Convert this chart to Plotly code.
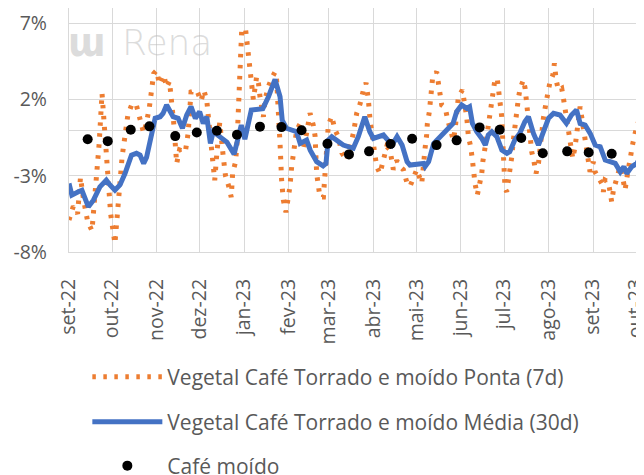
import pandas as pd
import plotly.graph_objects as go

# ---------------- data (days counted from 2022-09-01) ----------------
START = "2022-09-01"

ponta_days = [0, 3, 6, 8, 10, 13, 16, 19, 21, 23, 25, 27, 29, 32, 34, 37, 41, 44, 47, 50,
              52, 54, 56, 59, 61, 63, 66, 68, 70, 73, 75, 77, 81, 83, 85, 89, 92, 94, 96, 98.5,
              101.5, 103, 105, 107.5, 109, 111, 113, 114, 116, 117, 118, 118.6, 119.1, 120.3, 123, 124, 125, 126, 127.2, 128.4,
              130.7, 132, 133, 134.2, 135.4, 136.5, 138.8, 141.2, 143.5, 144.6, 145.8, 147, 148.1, 149.3, 151.1, 152.8, 153.9, 155.1, 156.3, 157.4,
              158.6, 160.9, 163.2, 165.5, 167.9, 170.2, 171.4, 172.5, 174.8, 177.2, 178.3, 179.5, 180.6, 183, 185.3, 187.6, 190, 193.4, 195.7, 198.1,
              200.4, 202.7, 205, 206.9, 208.5, 209.7, 212, 214.3, 216.6, 219, 221.3, 223.6, 225.9, 228.3, 230.6, 232.9, 235.2, 237.5, 239.9, 242.2,
              245.7, 246.8, 248, 249.1, 249.6, 251, 251.5, 252.2, 253.3, 256.1, 257.3, 258.4, 259.6, 261.2, 262.6, 263.8, 265.4, 267.7, 268.9, 270,
              271.2, 274, 275.4, 277, 278.2, 279.8, 281, 281.7, 282.8, 284.4, 286.3, 287.5, 288.2, 289.8, 291, 292.1, 293.3, 294.4, 295.6, 296.8,
              298.4, 299.1, 300.2, 301.4, 302.1, 302.6, 303, 303.7, 304.9, 306, 307.2, 308.4, 309.5, 310.7, 311.8, 313, 314.2, 316.5, 317.7, 318.8,
              320, 321.1, 322.3, 323.9, 325.3, 327, 328.1, 329.3, 330.4, 331.6, 332.7, 333.9, 335.1, 337, 338.1, 339.3, 340.9, 343.2, 344.4, 345.5,
              346.7, 347.8, 349, 350.9, 352.5, 353.7, 354.8, 356, 357.1, 358.3, 359.5, 360.6, 361.8, 362.9, 364.1, 365.3, 366.4, 368.7, 371.1, 372.2,
              373.4, 375.7, 376.9, 378, 379.2, 381.5, 383.8, 386.2, 387.3, 388.5, 390.8, 392.7, 394.3, 395.9, 397.3, 398.9, 400.6]
ponta_vals = [-5.9, -5.0, -5.5, -3.1, -4.5, -6.0, -6.6, -3.3, -0.9, 2.4, -0.5, -2.5, -5.5, -7.45, -5.5, -1.75, 0.98, 1.74, 1.6, 0.3,
              -0.2, 0.5, 1.5, 3.7, 3.9, 3.0, 3.6, 2.8, 3.2, 0.4, -2.2, -1.3, -1.45, -0.2, 2.5, 2.6, 1.9, 2.6, 1.9, -0.5,
              -3.3, -1.5, 0.5, -1.8, -3.0, -3.6, -4.4, -2.8, -2.1, -0.9, 1.1, 3.5, 5.0, 6.6, 6.6, 5.7, 4.3, 3.5, 2.6, 2.0,
              3.5, 3.05, 2.2, 1.5, 0.87, 1.96, 2.84, 3.4, 3.8, 3.3, 1.5, -0.9, -3.3, -4.6, -5.4, -4.6, -3.7, -2.4, -1.5, -0.66,
              0.0, 0.4, -1.3, -0.2, 1.1, 0.3, -0.4, -2.85, -4.4, -4.4, -3.0, -2.0, 0.3, 0.9, 0.0, -0.44, -1.5, -2.0, -1.1, -0.2,
              1.1, 1.7, 2.6, 3.1, 2.0, 0.65, -0.9, -2.4, -2.85, -1.8, -1.1, -1.3, -2.6, -2.0, -2.4, -2.6, -3.4, -3.7, -3.1, -2.6,
              -3.5, -1.87, -1.21, -0.33, 0.43, 1.2, 1.96, 2.73, 3.45, 3.82, 3.06, 2.29, 1.64, 1.53, 1.2, 0.65, 0.1, -0.66, 0.0, 1.31,
              2.18, 2.62, 1.85, 0.87, -0.44, -1.1, -1.98, -2.74, -3.51, -4.27, -3.51, -2.85, -2.09, -1.32, -0.44, 0.32, 0.98, 1.85, 2.62, 3.39,
              3.28, 2.62, 1.75, 0.87, -0.66, -2.19, -2.96, -3.84, -4.05, -3.4, -2.52, -1.76, -0.66, 0.43, 1.31, 2.07, 2.73, 3.28, 2.73, 1.75,
              0.87, -0.66, -1.43, -2.09, -2.85, -2.19, -1.1, -0.22, 0.76, 1.42, 2.29, 2.62, 3.17, 3.6, 4.37, 3.28, 2.62, 2.73, 2.07, 1.31,
              0.43, -0.33, -1.1, -1.87, -1.1, -0.11, 0.98, 1.53, 0.87, 0.0, -0.88, -1.65, -2.19, -2.74, -2.41, -2.09, -2.74, -3.07, -3.51, -4.05,
              -3.29, -3.4, -3.95, -4.71, -3.95, -3.07, -2.41, -3.4, -3.95, -3.18, -1.76, -0.88, -0.22, 0.32, 0.76, 0.65, 0.21]

media_days = [0, 2, 6.5, 9, 13.5, 17, 21.5, 26, 28.5, 32, 35.5, 39, 43.5, 47, 49.5, 52, 54, 57, 60, 63.5,
              65.5, 68, 70.5, 72.5, 76, 79, 82, 85, 88, 91, 93.5, 96, 98.5, 100.5, 104.5, 110, 115, 120, 122.5, 127,
              135, 139, 143.5, 147, 148.5, 151.5, 158.5, 161, 165.5, 168, 172.5, 177, 179, 180.5, 183, 187.5, 191, 198, 201.5, 206,
              209.5, 212, 215.5, 219, 225, 228.5, 232, 235.5, 237.5, 247, 248, 250.5, 254, 257.5, 262, 264.5, 267.5, 270, 273.5, 277,
              279, 281, 284, 287.5, 290, 292, 294.5, 298, 301.5, 305, 307, 310.5, 314, 317.5, 320, 323.5, 327, 330.5, 334, 337.5,
              342, 346.5, 350, 353.5, 356, 359.5, 363, 366.5, 370, 373.5, 377, 380.5, 384, 386.5, 388.5, 392, 395.5, 398, 400.5]
media_vals = [-3.5, -4.27, -4.05, -3.95, -5.04, -4.6, -3.73, -3.29, -3.6, -3.94, -3.6, -2.85, -1.65, -1.53, -1.65, -2.19, -1.8, -0.66, 0.77, 0.87,
              1.09, 1.64, 1.2, 0.87, 0.77, 0.11, 0.98, 1.53, 0.77, 1.2, 0.43, 0.87, -0.88, -0.1, -0.4, -0.8, -1.58, 0.32, -0.6, 1.31,
              1.4, 2.2, 3.32, 2.18, 0.65, 0.11, -0.11, -0.88, -0.66, -1.32, -2.08, -2.35, -2.2, -0.66, -0.44, -0.77, -0.99, -1.2, -0.44, 0.87,
              -0.11, -0.55, -0.44, -0.33, -0.99, -0.44, -0.99, -2.08, -2.3, -2.2, -2.4, -2.08, -0.88, -0.55, -0.11, 0.22, 0.43, 1.2, 1.64, 1.42,
              1.53, 0.43, -0.11, -0.55, -0.99, -0.33, -0.11, -0.44, -1.32, -1.53, -1.43, -0.66, -0.22, 0.54, 0.87, -0.22, -0.99, -0.11, 0.77, 1.09,
              0.98, 0.43, 0.98, 1.31, 0.43, 0.32, -0.22, -0.99, -1.1, -1.97, -2.08, -2.19, -2.74, -2.4, -2.85, -2.4, -2.19, -1.76, -1.6]

moido_dates = ["2022-09-14", "2022-09-28", "2022-10-14", "2022-10-27", "2022-11-14", "2022-11-29",
               "2022-12-13", "2022-12-27", "2023-01-12", "2023-01-27", "2023-02-10", "2023-02-28",
               "2023-03-15", "2023-03-29", "2023-04-13", "2023-04-28", "2023-05-15", "2023-05-29",
               "2023-06-14", "2023-06-28", "2023-07-13", "2023-07-28", "2023-08-14", "2023-08-29",
               "2023-09-14"]
moido_vals = [-0.61, -0.73, 0.02, 0.24, -0.40, -0.16, -0.05, -0.31, 0.22, 0.19, -0.02, -0.90,
              -1.60, -1.40, -0.92, -0.57, -0.99, -0.68, 0.17, 0.02, -0.53, -1.53, -1.40, -1.47, -1.56]

month_ticks = ["2022-09-01", "2022-10-01", "2022-11-01", "2022-12-01", "2023-01-01", "2023-02-01",
               "2023-03-01", "2023-04-01", "2023-05-01", "2023-06-01", "2023-07-01", "2023-08-01",
               "2023-09-01", "2023-10-01"]
month_labels = ["set-22", "out-22", "nov-22", "dez-22", "jan-23", "fev-23", "mar-23", "abr-23",
                "mai-23", "jun-23", "jul-23", "ago-23", "set-23", "out-23"]
y_ticks = [-8, -3, 2, 7]
y_labels = ["-8%", "-3%", "2%", "7%"]

names = ["Vegetal Café Torrado e moído Ponta (7d)",
         "Vegetal Café Torrado e moído Média (30d)",
         "Café moído"]

# ---------------- build ----------------
base = pd.Timestamp(START)
ponta_x = [base + pd.Timedelta(days=d) for d in ponta_days]
media_x = [base + pd.Timedelta(days=d) for d in media_days]

ORANGE = "#ED7D31"
BLUE = "#4472C4"
GRID = "#d9d9d9"
TXT = "#595959"
FONT = "Open Sans"
FS_AX = 19.5
FS_LEG = 21

W, H = 644, 475
OFF = 8  # page body margin in the browser


def leg_y(py):
    return 1 - (py - OFF) / H


fig = go.Figure()
fig.add_trace(go.Scatter(x=ponta_x, y=ponta_vals, mode="lines", name=names[0],
                         line=dict(color=ORANGE, width=5, dash="3.5px,7.5px"),
                         legend="legend"))
fig.add_trace(go.Scatter(x=media_x, y=media_vals, mode="lines", name=names[1],
                         line=dict(color=BLUE, width=5), legend="legend2"))
fig.add_trace(go.Scatter(x=moido_dates, y=moido_vals, mode="markers", name=names[2],
                         marker=dict(color="black", size=10), legend="legend3"))

leg_common = dict(xref="container", yref="container", x=0.1232, xanchor="left",
                  yanchor="middle", itemwidth=70,
                  font=dict(family=FONT, size=FS_LEG, color=TXT), bgcolor="rgba(0,0,0,0)",
                  borderwidth=0)

fig.update_layout(
    width=W, height=H,
    margin=dict(l=69 - OFF, r=OFF, t=0, b=H - (252 - OFF), autoexpand=False),
    paper_bgcolor="white", plot_bgcolor="white",
    showlegend=True,
    legend=dict(y=leg_y(377), **leg_common),
    legend2=dict(y=leg_y(422), **leg_common),
    legend3=dict(y=leg_y(466), **leg_common),
    xaxis=dict(type="date", range=["2022-09-01", "2023-10-06 12:00"], automargin=False,
               tickmode="array", tickvals=month_ticks, ticktext=month_labels,
               tickangle=-90, ticks="", ticklabelstandoff=18,
               tickfont=dict(family=FONT, size=FS_AX, color=TXT),
               showgrid=True, gridcolor=GRID, gridwidth=1.3,
               showline=True, linecolor=GRID, linewidth=1.3, zeroline=False),
    yaxis=dict(range=[-8, 8], tickmode="array", tickvals=y_ticks, ticktext=y_labels,
               automargin=False, ticks="", ticklabelstandoff=17,
               tickfont=dict(family=FONT, size=FS_AX, color=TXT),
               showgrid=True, gridcolor=GRID, gridwidth=1.3,
               zeroline=True, zerolinecolor=GRID, zerolinewidth=1.3,
               showline=True, linecolor=GRID, linewidth=1.3),
    annotations=[
        dict(text="<b>ɯ</b>", xref="paper", yref="paper", x=-0.005, y=0.86,
             xanchor="left", yanchor="middle", showarrow=False,
             font=dict(family="DejaVu Sans Condensed", size=40, color="rgba(190,190,190,0.55)")),
        dict(text="Rena", xref="paper", yref="paper", x=0.088, y=0.857,
             xanchor="left", yanchor="middle", showarrow=False,
             font=dict(family="DejaVu Sans", size=36, weight=200, color="rgba(190,190,190,0.55)")),
    ],
)

fig.write_html("out.html")
